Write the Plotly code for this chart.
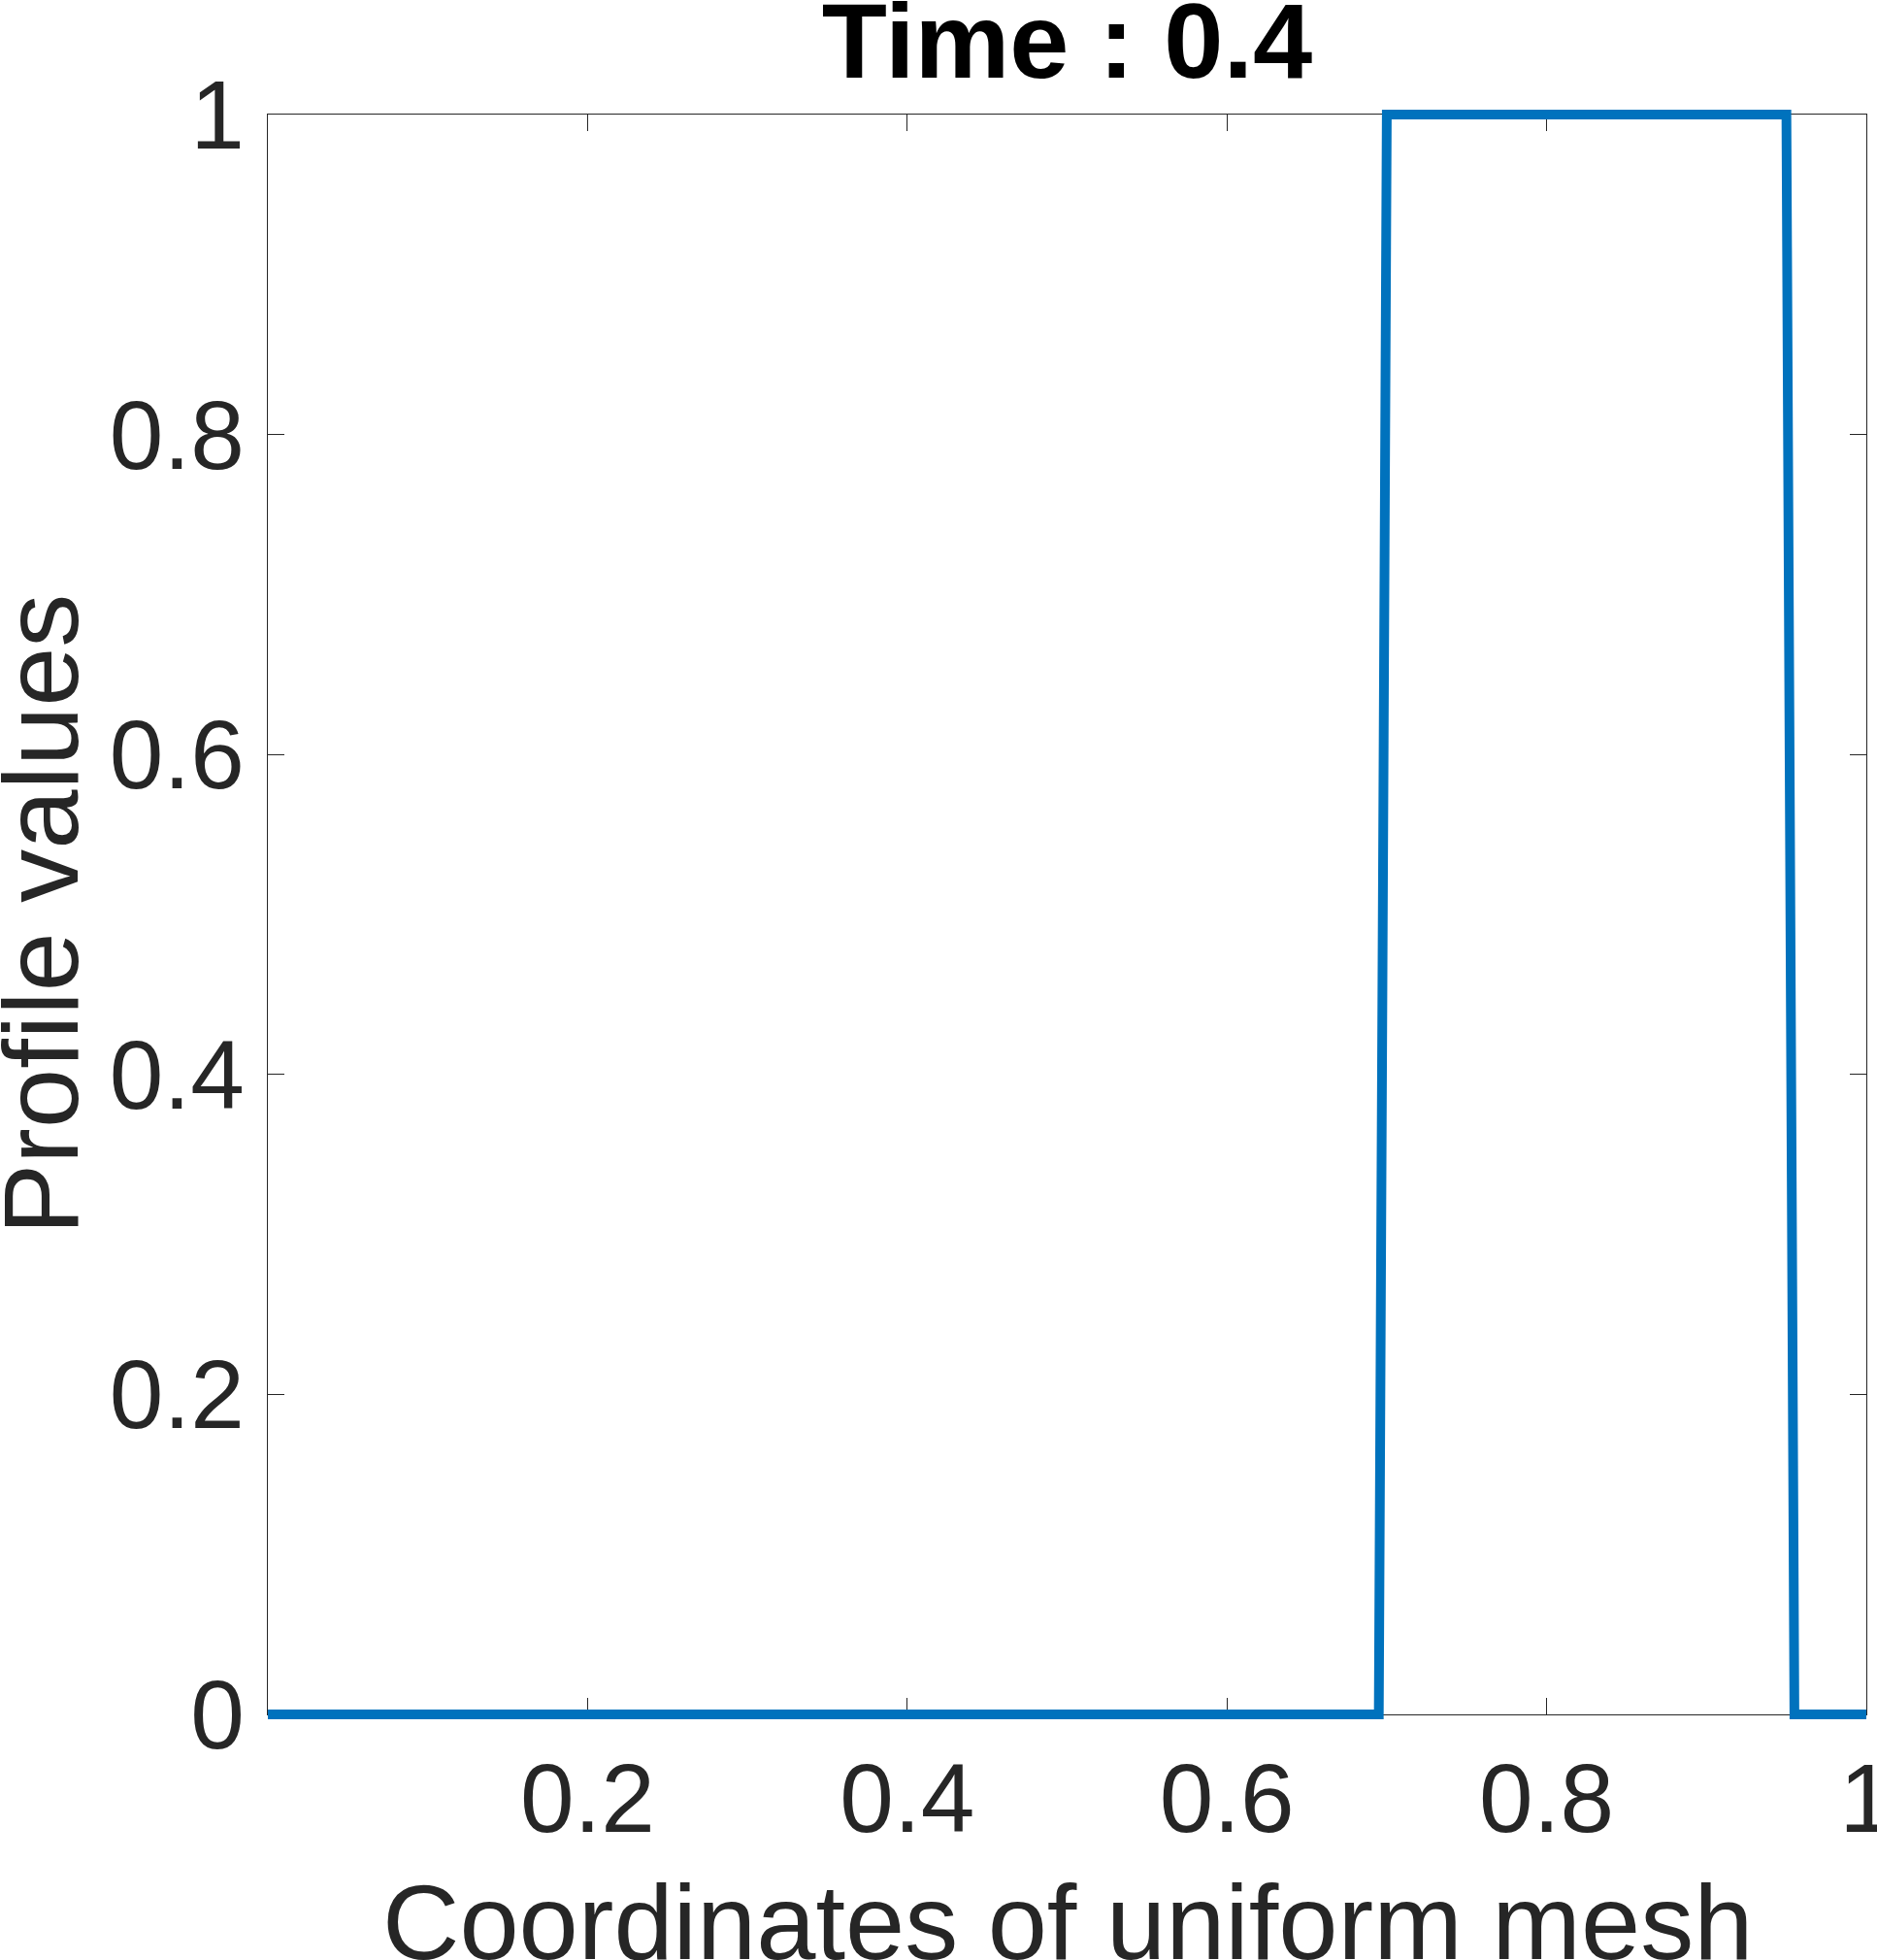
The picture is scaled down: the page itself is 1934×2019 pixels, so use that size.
import plotly.graph_objects as go

# Profile at time 0.4 on a uniform mesh (corner vertices of the step)
mesh_x = [0.0, 0.695, 0.700, 0.950, 0.955, 1.0]
profile = [0, 0, 1, 1, 0, 0]
x_ticks = [0.2, 0.4, 0.6, 0.8, 1]
x_tick_text = ["0.2", "0.4", "0.6", "0.8", "1"]
y_ticks = [0, 0.2, 0.4, 0.6, 0.8, 1]
y_tick_text = ["0", "0.2", "0.4", "0.6", "0.8", "1"]
title_text = "<b>Time : 0.4</b>"
x_title = "Coordinates of uniform mesh"
y_title = "Profile values"

FONT = "Liberation Sans, Arial, Helvetica, sans-serif"
AX = "#262626"

# geometry (screen px)
FIG_W, FIG_H = 1934, 2019
FR_L, FR_R, FR_T, FR_B = 276, 1923, 118, 1766
PADY = 8  # vertical room so the thick line at y=0 / y=1 is not clipped
PA_T, PA_B = FR_T - PADY, FR_B + PADY
PA_H = PA_B - PA_T
FRAME_H = FR_B - FR_T
ML, MR, MT, MB = FR_L, FIG_W - FR_R, PA_T, FIG_H - PA_B


def py(screen_y):
    return (PA_B - screen_y) / PA_H


def px(screen_x):
    return (screen_x - FR_L) / (FR_R - FR_L)


fig = go.Figure()
# invisible anchor so the framed axes get drawn
fig.add_trace(go.Scatter(x=[0], y=[0], mode="markers", marker=dict(opacity=0),
                         hoverinfo="skip", showlegend=False))
fig.add_trace(go.Scatter(
    x=mesh_x, y=profile, mode="lines", xaxis="x2", yaxis="y2",
    line=dict(color="#0072BD", width=10),
    hoverinfo="skip", showlegend=False,
))

axis_common = dict(
    showgrid=False, zeroline=False, showline=True, linecolor=AX, linewidth=1.4,
    mirror="allticks", ticks="inside", ticklen=17, tickwidth=1.4, tickcolor=AX,
    tickfont=dict(family=FONT, size=100, color=AX),
    automargin=False, ticklabeloverflow="allow",
)

fig.update_layout(
    width=FIG_W, height=FIG_H, autosize=False,
    margin=dict(l=ML, r=MR, t=MT, b=MB, pad=0),
    paper_bgcolor="white", plot_bgcolor="rgba(0,0,0,0)",
    title=dict(
        text=title_text, x=0.5, xanchor="center", xref="paper",
        y=1 - 41 / FIG_H, yanchor="middle", yref="container",
        font=dict(family=FONT, size=110, color="black"),
    ),
    xaxis=dict(range=[0, 1], domain=[0, 1],
               tickvals=x_ticks, ticktext=x_tick_text, **axis_common),
    yaxis=dict(range=[0, 1], domain=[PADY / PA_H, 1 - PADY / PA_H],
               tickvals=y_ticks, ticktext=y_tick_text, ticklabelstandoff=3,
               **axis_common),
    xaxis2=dict(range=[0, 1], domain=[0, 1], visible=False, anchor="y2"),
    yaxis2=dict(range=[-PADY / FRAME_H, 1 + PADY / FRAME_H], domain=[0, 1],
                visible=False, anchor="x2"),
    annotations=[
        dict(text=x_title, xref="paper", yref="paper", x=0.5, y=py(1979),
             xanchor="center", yanchor="middle", showarrow=False,
             font=dict(family=FONT, size=110, color=AX)),
        dict(text=y_title, xref="paper", yref="paper", x=px(41), y=py(942),
             xanchor="center", yanchor="middle", showarrow=False, textangle=-90,
             font=dict(family=FONT, size=110, color=AX)),
    ],
)

fig.write_html("out.html", config={"displayModeBar": False},
               post_script="document.body.style.margin='0';")
